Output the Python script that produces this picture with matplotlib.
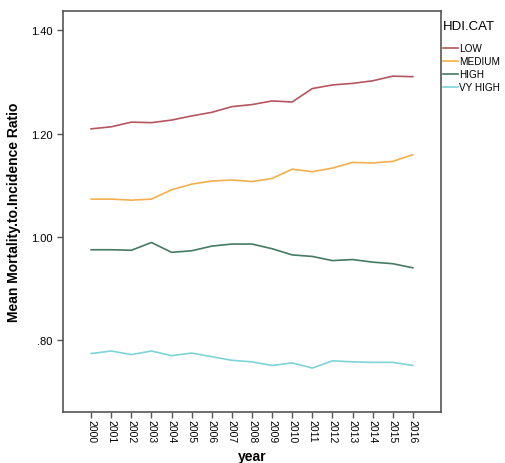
import matplotlib.pyplot as plt
from matplotlib.ticker import FuncFormatter

years = list(range(2000, 2017))
low = [1.209, 1.213, 1.222, 1.221, 1.226, 1.234, 1.241, 1.252, 1.256, 1.263,
       1.261, 1.287, 1.294, 1.297, 1.302, 1.311, 1.310]
medium = [1.073, 1.073, 1.071, 1.073, 1.091, 1.102, 1.108, 1.110, 1.107, 1.113,
          1.131, 1.126, 1.133, 1.144, 1.143, 1.146, 1.159]
high = [0.975, 0.975, 0.974, 0.989, 0.970, 0.973, 0.982, 0.986, 0.986, 0.977,
        0.965, 0.962, 0.954, 0.956, 0.951, 0.948, 0.940]
vy_high = [0.774, 0.779, 0.772, 0.779, 0.770, 0.775, 0.768, 0.761, 0.758, 0.751,
           0.756, 0.746, 0.760, 0.758, 0.757, 0.757, 0.751]

series = [("LOW", low, "#b5565f"),
          ("MEDIUM", medium, "#f2b04c"),
          ("HIGH", high, "#467a62"),
          ("VY HIGH", vy_high, "#7ed3d6")]

plt.rcParams['font.family'] = ['Liberation Sans', 'DejaVu Sans']

fig = plt.figure(figsize=(5.06, 4.64), dpi=100)
ax = fig.add_axes([0.1245, 0.11, 0.747, 0.864])

for name, vals, col in series:
    ax.plot(years, vals, color=col, lw=1.2, label=name)

ax.set_xlim(1998.6, 2017.4)
ax.set_ylim(0.661, 1.437)
ax.set_xticks(years)
ax.set_xticklabels([str(y) for y in years], rotation=270, fontsize=7.5)
ax.set_yticks([0.8, 1.0, 1.2, 1.4])
ax.yaxis.set_major_formatter(FuncFormatter(
    lambda v, p: ("%.2f" % v).lstrip("0") if v < 1 else "%.2f" % v))
ax.tick_params(axis='y', labelsize=8, length=4, width=1, color='#555555')
ax.tick_params(axis='x', length=4, width=1, color='#555555', pad=1)
for s in ax.spines.values():
    s.set_color('#555555')
    s.set_linewidth(1.2)

ax.set_xlabel("year", fontsize=10, fontweight='bold', labelpad=5)
ax.set_ylabel("Mean Mortality.to.Incidence Ratio", fontsize=10,
              fontweight='bold', labelpad=7)

leg = ax.legend(title="HDI.CAT", loc='upper left', bbox_to_anchor=(0.997, 0.985),
                frameon=False, fontsize=7.2, handlelength=1.5,
                handletextpad=0.1, labelspacing=0.3, borderaxespad=0.0,
                borderpad=0.3, alignment='left')
leg.get_title().set_fontsize(9.5)
leg._legend_box.sep = 8

fig.savefig("out.png", dpi=100)
